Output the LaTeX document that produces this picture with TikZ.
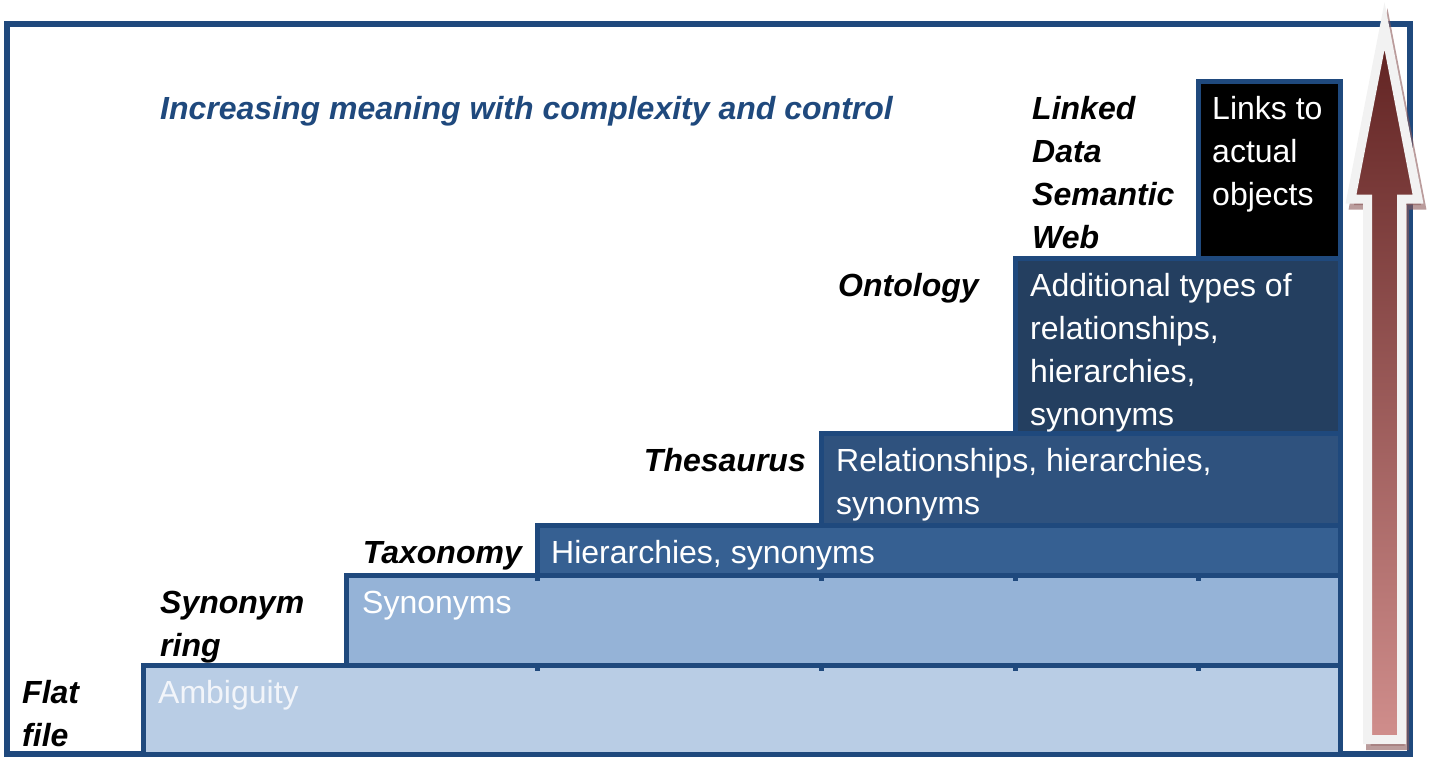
\documentclass[tikz,border=0pt]{standalone}
\usepackage{fontspec}
\setmainfont{Liberation Sans}
\definecolor{frameblue}{RGB}{31,73,125}
\definecolor{flatfill}{RGB}{185,205,229}
\definecolor{synfill}{RGB}{149,179,215}
\definecolor{taxfill}{RGB}{54,96,146}
\definecolor{thesfill}{RGB}{47,82,126}
\definecolor{ontofill}{RGB}{36,63,96}
\definecolor{arrowtop}{RGB}{95,33,32}
\definecolor{arrowbottom}{RGB}{208,142,140}
\definecolor{arrowrim}{RGB}{242,242,242}
\definecolor{arrowshade}{RGB}{140,90,90}
\definecolor{paletext}{RGB}{242,245,250}
\begin{document}
\begin{tikzpicture}[x=1pt,y=-1pt,
  cellbox/.style={draw=frameblue, line width=5pt},
  celltext/.style={anchor=base west, inner sep=0pt, text=white,
    font=\fontsize{32}{43}\selectfont},
  steplabel/.style={anchor=base west, inner sep=0pt, text=black,
    font=\fontsize{32}{43}\selectfont\bfseries\itshape},
  stub/.style={fill=frameblue}
]
\useasboundingbox (0,0) rectangle (1429,756);

% outer frame
\draw[frameblue, line width=6pt] (7,24) rectangle (1410,754);

% staircase of levels, lowest first
\filldraw[cellbox, fill=flatfill] (143,665) rectangle (1340,754);
\filldraw[cellbox, fill=synfill]  (346,575) rectangle (1340,665);
\filldraw[cellbox, fill=taxfill]  (537,525) rectangle (1340,575);
\filldraw[cellbox, fill=thesfill] (821,433) rectangle (1340,525);
\filldraw[cellbox, fill=ontofill] (1015,258) rectangle (1340,433);
\filldraw[cellbox, fill=black]    (1198,81) rectangle (1340,258);

% small stubs left by the column rules of the grid
\foreach \cx in {537,821,1015,1198} {
  \fill[stub] (\cx-2.5,577) rectangle (\cx+2.5,580.5);
  \fill[stub] (\cx-2.5,667) rectangle (\cx+2.5,670.5);
}

% title
\node[steplabel, text=frameblue] (title) at (160,119.5)
  {Increasing meaning with complexity and control};

% level names
\node[steplabel] (flatA) at (22,703.5) {Flat};
\node[steplabel] (flatB) at (22,746.5) {file};
\node[steplabel] (synA) at (160,613.5) {Synonym};
\node[steplabel] (synB) at (160,656.5) {ring};
\node[steplabel, anchor=base east] (taxA) at (522,563.5) {Taxonomy};
\node[steplabel, anchor=base east] (thesA) at (806,471.5) {Thesaurus};
\node[steplabel] (ontoA) at (838,296.5) {Ontology};
\node[steplabel] (ldA) at (1032,119.5) {Linked};
\node[steplabel] (ldB) at (1032,162.5) {Data};
\node[steplabel] (ldC) at (1032,205.5) {Semantic};
\node[steplabel] (ldD) at (1032,248.5) {Web};

% level descriptions
\node[celltext, text=paletext] (flatT) at (158,703.5) {Ambiguity};
\node[celltext] (synT) at (362,613.5) {Synonyms};
\node[celltext] (taxT) at (551,563.5) {Hierarchies, synonyms};
\node[celltext] (thesT1) at (836,471.5) {Relationships, hierarchies,};
\node[celltext] (thesT2) at (836,514.5) {synonyms};
\node[celltext] (ontoT1) at (1030,296.5) {Additional types of};
\node[celltext] (ontoT2) at (1030,339.5) {relationships,};
\node[celltext] (ontoT3) at (1030,382.5) {hierarchies,};
\node[celltext] (ontoT4) at (1030,425.5) {synonyms};
\node[celltext] (ldT1) at (1212,119.5) {Links to};
\node[celltext] (ldT2) at (1212,162.5) {actual};
\node[celltext] (ldT3) at (1212,205.5) {objects};

% upward arrow: shadow, gradient body, light rim
\def\arrowpath{(1384.5,26) -- (1418,199) -- (1401.5,199) -- (1401.5,739.5)
  -- (1367.5,739.5) -- (1367.5,199) -- (1351,199) -- cycle}
\begin{scope}[shift={(3,6)}]
  \filldraw[arrowshade, opacity=0.6, line width=9pt, miter limit=10] \arrowpath;
\end{scope}
\path[top color=arrowtop, bottom color=arrowbottom] \arrowpath;
\draw[arrowrim, line width=9pt, miter limit=10] \arrowpath;
\end{tikzpicture}
\end{document}
